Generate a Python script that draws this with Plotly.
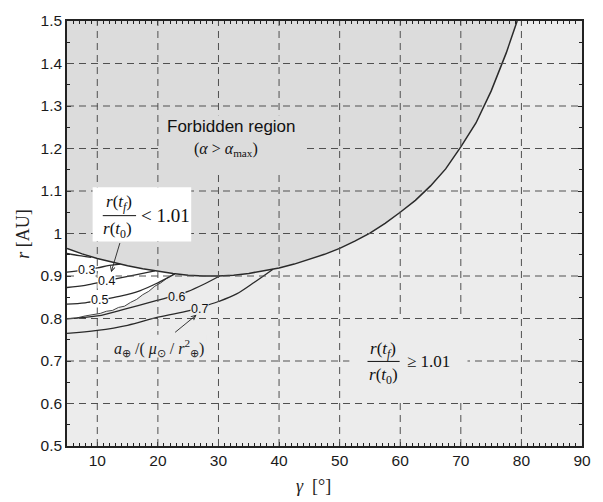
import plotly.graph_objects as go

# ---------------- data ----------------
gamma_boundary = [5, 7.5, 10, 12.5, 15, 17.5, 20, 22.5, 25, 27.5, 30, 32.5, 35, 37.5, 40,
                  42.5, 45, 47.5, 50, 52.5, 55, 57.5, 60, 62.5, 65, 67.5, 70, 72.5, 75, 77.5, 79.3]
r_boundary = [0.965, 0.952, 0.941, 0.932, 0.924, 0.917, 0.911, 0.906, 0.902, 0.900, 0.900, 0.902,
              0.906, 0.912, 0.919, 0.928, 0.939, 0.951, 0.965, 0.982, 1.001, 1.024, 1.050, 1.078,
              1.112, 1.152, 1.204, 1.260, 1.335, 1.425, 1.500]

# limit r(tf)/r(t0) = 1.01 (jagged numerical curve)
gamma_limit = [5, 6.5, 8, 9.5, 10.5, 11.5, 12.5, 13.5, 14.5, 15.5, 16.5, 17.5, 18.5, 19.5, 20.5, 21.5, 22.6]
r_limit = [0.800, 0.801, 0.806, 0.810, 0.812, 0.817, 0.819, 0.826, 0.829, 0.838, 0.845, 0.856,
           0.864, 0.876, 0.884, 0.895, 0.904]

# contours of a_earth / (mu_sun / r_earth^2)
c02_gamma = [5, 7, 9]
c02_r = [0.953, 0.948, 0.944]
c03_gamma = [5, 7.5, 10, 12, 13.8]
c03_r = [0.909, 0.913, 0.919, 0.925, 0.928]
c04_gamma = [5, 8, 11, 14, 16.5, 19.5]
c04_r = [0.873, 0.878, 0.887, 0.896, 0.903, 0.912]
c05_gamma = [5, 8, 11, 14, 17, 20, 22.8]
c05_r = [0.834, 0.837, 0.845, 0.853, 0.865, 0.884, 0.905]
c06_gamma = [5, 10, 15, 20, 23, 25, 27.5, 30.2]
c06_r = [0.799, 0.806, 0.824, 0.843, 0.855, 0.864, 0.880, 0.900]
c07_gamma = [5, 10, 15, 20, 25, 27, 30, 33, 36, 39]
c07_r = [0.765, 0.772, 0.784, 0.803, 0.818, 0.826, 0.840, 0.858, 0.886, 0.916]

label_gamma = [8.3, 11.6, 10.4, 23.0, 26.9]
label_r = [0.914, 0.888, 0.843, 0.851, 0.822]
label_text = ["0.3", "0.4", "0.5", "0.6", "0.7"]

x_ticks = [10, 20, 30, 40, 50, 60, 70, 80, 90]
x_tick_labels = ["10", "20", "30", "40", "50", "60", "70", "80", "90"]
y_ticks = [0.5, 0.6, 0.7, 0.8, 0.9, 1.0, 1.1, 1.2, 1.3, 1.4, 1.5]
y_tick_labels = ["0.5", "0.6", "0.7", "0.8", "0.9", "1", "1.1", "1.2", "1.3", "1.4", "1.5"]

# ---------------- styles ----------------
SANS = "Liberation Sans, Arial, sans-serif"
SERIF = "Liberation Serif, Times New Roman, serif"
FORBID = "#dcdcdc"
ALLOW = "#ececec"
LINE = "#2a2a2a"

fig = go.Figure()

# forbidden region fill
fig.add_trace(go.Scatter(
    x=gamma_boundary + [gamma_boundary[0]],
    y=r_boundary + [r_boundary[-1]],
    mode="none", fill="toself", fillcolor=FORBID, hoverinfo="skip", showlegend=False))

# white region (ratio < 1.01)
wx = list(gamma_limit) + [g for g in reversed(gamma_boundary) if g < gamma_limit[-1]]
wy = list(r_limit) + [r for g, r in zip(reversed(gamma_boundary), reversed(r_boundary)) if g < gamma_limit[-1]]
fig.add_trace(go.Scatter(x=wx, y=wy, mode="none", fill="toself", fillcolor="#ffffff",
                         hoverinfo="skip", showlegend=False))

# boundary curve
fig.add_trace(go.Scatter(x=gamma_boundary, y=r_boundary, mode="lines",
                         line=dict(color=LINE, width=1.5), hoverinfo="skip", showlegend=False))
# limit curve
fig.add_trace(go.Scatter(x=gamma_limit, y=r_limit, mode="lines",
                         line=dict(color="#444", width=1), hoverinfo="skip", showlegend=False))
# contours
for gx, ry in [(c02_gamma, c02_r), (c03_gamma, c03_r), (c04_gamma, c04_r),
               (c05_gamma, c05_r), (c06_gamma, c06_r), (c07_gamma, c07_r)]:
    fig.add_trace(go.Scatter(x=gx, y=ry, mode="lines", line=dict(color=LINE, width=1.3, shape="spline"),
                             hoverinfo="skip", showlegend=False))

shapes = []
grid_line = dict(color="#505050", width=1, dash="7px,5px")
for xv in x_ticks[:-1]:
    shapes.append(dict(type="line", xref="x", yref="paper", x0=xv, x1=xv, y0=0, y1=1,
                       line=grid_line, layer="above"))
for yv in y_ticks[1:-1]:
    shapes.append(dict(type="line", xref="paper", yref="y", x0=0, x1=1, y0=yv, y1=yv,
                       line=grid_line, layer="above"))

# text masks
shapes.append(dict(type="rect", xref="x", yref="y", x0=9.23, x1=25.5, y0=0.981, y1=1.109,
                   fillcolor="#ffffff", line=dict(width=0), layer="above"))
shapes.append(dict(type="rect", xref="x", yref="y", x0=51.6, x1=71.1, y0=0.606, y1=0.799,
                   fillcolor=ALLOW, line=dict(width=0), layer="above"))
shapes.append(dict(type="rect", xref="x", yref="y", x0=20.6, x1=43.8, y0=1.148, y1=1.278,
                   fillcolor=FORBID, line=dict(width=0), layer="above"))
shapes.append(dict(type="rect", xref="x", yref="y", x0=12.8, x1=28.0, y0=0.708, y1=0.762,
                   fillcolor=ALLOW, line=dict(width=0), layer="above"))
# fraction bars
shapes.append(dict(type="line", xref="x", yref="y", x0=10.9, x1=16.4, y0=1.042, y1=1.042,
                   line=dict(color="#111", width=1), layer="above"))
shapes.append(dict(type="line", xref="x", yref="y", x0=54.6, x1=59.9, y0=0.699, y1=0.699,
                   line=dict(color="#111", width=1), layer="above"))

ann = []
for gx, ry, t in zip(label_gamma, label_r, label_text):
    bg = "#ffffff" if float(t) < 0.55 else ALLOW
    ann.append(dict(x=gx, y=ry, text=t, showarrow=False, bgcolor=bg, borderpad=0,
                    font=dict(family=SANS, size=12.5, color="#111")))

serif17 = dict(family=SERIF, size=17, color="#111")
ann += [
    dict(x=13.5, y=1.072, text="<i>r</i>(<i>t</i><sub><i>f</i></sub>)", showarrow=False, font=serif17),
    dict(x=13.3, y=1.009, text="<i>r</i>(<i>t</i><sub>0</sub>)", showarrow=False, font=serif17),
    dict(x=21.2, y=1.042, text="&lt; 1.01", showarrow=False, font=dict(family=SERIF, size=19, color="#111")),
    dict(x=57.2, y=0.726, text="<i>r</i>(<i>t</i><sub><i>f</i></sub>)", showarrow=False, font=serif17),
    dict(x=57.2, y=0.664, text="<i>r</i>(<i>t</i><sub>0</sub>)", showarrow=False, font=serif17),
    dict(x=64.7, y=0.699, text="≥ 1.01", showarrow=False, font=serif17),
    dict(x=32.2, y=1.251, text="Forbidden region", showarrow=False,
         font=dict(family=SANS, size=17, color="#111")),
    dict(x=31.2, y=1.197, text="(<i>α</i> &gt; <i>α</i><sub>max</sub>)", showarrow=False,
         font=dict(family=SERIF, size=16, color="#111")),
    dict(x=20.15, y=0.731,
         text="<i>a</i><sub>⊕</sub> /( <i>μ</i><sub>⊙</sub> / <i>r</i><sup>2</sup><sub>⊕</sub>)",
         showarrow=False, font=dict(family=SERIF, size=16, color="#222")),
    # arrows
    dict(x=12.28, y=0.909, ax=13.8, ay=0.981, axref="x", ayref="y", text="", showarrow=True,
         arrowhead=5, arrowsize=1, arrowwidth=0.9, arrowcolor="#222"),
    dict(x=26.38, y=0.8086, ax=22.6, ay=0.7646, axref="x", ayref="y", text="", showarrow=True,
         arrowhead=5, arrowsize=1, arrowwidth=0.9, arrowcolor="#222"),
    # axis titles
    dict(xref="paper", yref="paper", x=-0.087, y=0.5, xanchor="center", yanchor="middle",
         text="<i>r</i> [AU]", textangle=-90,
         showarrow=False, font=dict(family=SERIF, size=18, color="#222")),
    dict(xref="paper", yref="paper", x=0.478, y=-0.094, xanchor="center", yanchor="middle",
         text="<i>γ</i>  [°]",
         showarrow=False, font=dict(family=SERIF, size=18, color="#222")),
]

axis_common = dict(showgrid=False, zeroline=False, showline=True, linecolor="#222", linewidth=1.5,
                   mirror="ticks", ticks="inside", ticklen=4, tickcolor="#222",
                   tickfont=dict(family=SANS, size=15.5, color="#1a1a1a"))

fig.update_layout(
    width=603, height=502,
    margin=dict(l=67, r=14, t=14, b=56),
    paper_bgcolor="#ffffff", plot_bgcolor=ALLOW,
    shapes=shapes, annotations=ann,
    xaxis=dict(range=[5, 90], tickvals=x_ticks, ticktext=x_tick_labels,
               minor=dict(dtick=1, tick0=0, ticks="inside", ticklen=3, tickcolor="#222"),
               **axis_common),
    yaxis=dict(range=[0.5, 1.5], tickvals=y_ticks, ticktext=y_tick_labels,
               minor=dict(dtick=0.05, tick0=0, ticks="inside", ticklen=3, tickcolor="#222"),
               **axis_common),
)

fig.write_html("out.html")
